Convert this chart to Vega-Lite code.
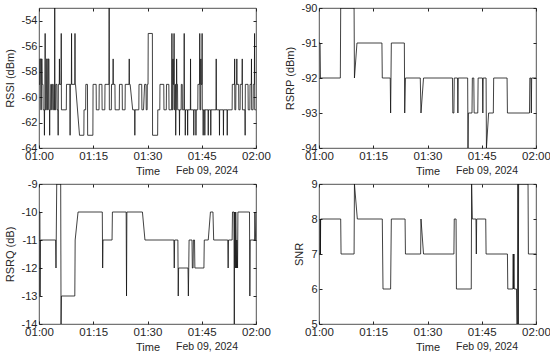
{
 "$schema": "https://vega.github.io/schema/vega-lite/v6.json",
 "padding": {"left": 3, "top": 1, "right": 0, "bottom": 0},
 "datasets": {
  "rssi": [{"m":0,"v":-59},{"m":0.2,"v":-59},{"m":0.25,"v":-57},{"m":0.45,"v":-57},{"m":0.5,"v":-61},{"m":0.65,"v":-61},{"m":0.7,"v":-57},{"m":0.85,"v":-57},{"m":0.9,"v":-59},{"m":1.1,"v":-59},{"m":1.15,"v":-61},{"m":1.45,"v":-61},{"m":1.5,"v":-63},{"m":1.55,"v":-61},{"m":1.65,"v":-61},{"m":1.7,"v":-55},{"m":1.75,"v":-61},{"m":2.05,"v":-61},{"m":2.1,"v":-57},{"m":2.3,"v":-57},{"m":2.35,"v":-61},{"m":2.55,"v":-61},{"m":2.6,"v":-57},{"m":2.75,"v":-57},{"m":2.8,"v":-61},{"m":2.9,"v":-61},{"m":2.95,"v":-63},{"m":3.0,"v":-61},{"m":3.2,"v":-61},{"m":3.25,"v":-59},{"m":3.45,"v":-59},{"m":3.5,"v":-61},{"m":3.65,"v":-61},{"m":3.7,"v":-59},{"m":3.95,"v":-59},{"m":4.0,"v":-61},{"m":4.3,"v":-61},{"m":4.35,"v":-53},{"m":4.4,"v":-61},{"m":4.6,"v":-61},{"m":4.65,"v":-59},{"m":4.95,"v":-59},{"m":5.0,"v":-61},{"m":5.25,"v":-61},{"m":5.3,"v":-63},{"m":5.35,"v":-59},{"m":5.6,"v":-59},{"m":5.65,"v":-57},{"m":5.7,"v":-59},{"m":6.1,"v":-59},{"m":6.15,"v":-55},{"m":6.2,"v":-61},{"m":7.55,"v":-61},{"m":7.6,"v":-59},{"m":8.55,"v":-59},{"m":8.6,"v":-63},{"m":8.65,"v":-59},{"m":8.95,"v":-59},{"m":9.0,"v":-55},{"m":9.05,"v":-59},{"m":9.9,"v":-59},{"m":9.95,"v":-55},{"m":10.0,"v":-59},{"m":10.1,"v":-59},{"m":11.2,"v":-63},{"m":12.4,"v":-63},{"m":12.45,"v":-61},{"m":12.9,"v":-61},{"m":12.95,"v":-59},{"m":13.4,"v":-59},{"m":13.45,"v":-63},{"m":14.9,"v":-63},{"m":14.95,"v":-59},{"m":15.8,"v":-59},{"m":15.85,"v":-61},{"m":16.6,"v":-61},{"m":16.65,"v":-59},{"m":17.4,"v":-59},{"m":17.45,"v":-61},{"m":18.2,"v":-61},{"m":18.25,"v":-59},{"m":19.35,"v":-59},{"m":19.4,"v":-53},{"m":19.45,"v":-61},{"m":20.0,"v":-61},{"m":20.05,"v":-59},{"m":20.45,"v":-59},{"m":20.5,"v":-57},{"m":20.55,"v":-59},{"m":21.0,"v":-59},{"m":21.05,"v":-61},{"m":22.2,"v":-61},{"m":22.25,"v":-59},{"m":23.0,"v":-59},{"m":23.05,"v":-61},{"m":23.8,"v":-61},{"m":23.85,"v":-59},{"m":24.9,"v":-59},{"m":24.95,"v":-57},{"m":25.0,"v":-59},{"m":25.2,"v":-59},{"m":25.9,"v":-61},{"m":26.45,"v":-61},{"m":26.5,"v":-63},{"m":26.55,"v":-61},{"m":27.6,"v":-61},{"m":27.65,"v":-59},{"m":28.4,"v":-59},{"m":28.45,"v":-61},{"m":28.9,"v":-61},{"m":29.2,"v":-59},{"m":29.6,"v":-59},{"m":29.65,"v":-61},{"m":29.9,"v":-61},{"m":29.95,"v":-59},{"m":30.15,"v":-59},{"m":30.2,"v":-55},{"m":31.35,"v":-55},{"m":31.4,"v":-63},{"m":32.8,"v":-63},{"m":32.85,"v":-61},{"m":33.4,"v":-61},{"m":33.45,"v":-59},{"m":34.5,"v":-59},{"m":34.55,"v":-61},{"m":35.2,"v":-61},{"m":35.25,"v":-59},{"m":35.9,"v":-59},{"m":35.95,"v":-61},{"m":36.7,"v":-61},{"m":36.75,"v":-55},{"m":36.8,"v":-61},{"m":37.0,"v":-61},{"m":37.05,"v":-57},{"m":37.1,"v":-59},{"m":37.3,"v":-59},{"m":37.35,"v":-55},{"m":37.4,"v":-61},{"m":37.55,"v":-61},{"m":37.6,"v":-59},{"m":37.75,"v":-59},{"m":37.8,"v":-63},{"m":37.85,"v":-61},{"m":38.0,"v":-61},{"m":38.05,"v":-57},{"m":38.1,"v":-59},{"m":38.3,"v":-59},{"m":38.35,"v":-61},{"m":38.8,"v":-61},{"m":38.85,"v":-63},{"m":38.9,"v":-61},{"m":39.3,"v":-61},{"m":39.35,"v":-59},{"m":39.6,"v":-59},{"m":39.65,"v":-61},{"m":40.1,"v":-61},{"m":40.15,"v":-55},{"m":40.2,"v":-61},{"m":40.4,"v":-61},{"m":40.45,"v":-63},{"m":40.5,"v":-61},{"m":41.05,"v":-61},{"m":41.1,"v":-63},{"m":41.15,"v":-61},{"m":41.85,"v":-61},{"m":41.9,"v":-57},{"m":41.95,"v":-61},{"m":42.75,"v":-61},{"m":42.8,"v":-63},{"m":42.85,"v":-61},{"m":43.35,"v":-61},{"m":43.4,"v":-63},{"m":43.45,"v":-61},{"m":43.9,"v":-61},{"m":43.95,"v":-59},{"m":44.4,"v":-59},{"m":44.45,"v":-55},{"m":44.5,"v":-61},{"m":44.7,"v":-61},{"m":44.75,"v":-57},{"m":44.8,"v":-59},{"m":45.05,"v":-59},{"m":45.1,"v":-55},{"m":45.15,"v":-61},{"m":45.35,"v":-61},{"m":45.4,"v":-63},{"m":45.45,"v":-61},{"m":45.8,"v":-61},{"m":45.85,"v":-63},{"m":45.9,"v":-61},{"m":46.75,"v":-61},{"m":46.8,"v":-63},{"m":46.85,"v":-61},{"m":47.45,"v":-61},{"m":47.5,"v":-63},{"m":47.55,"v":-61},{"m":48.95,"v":-61},{"m":49.0,"v":-57},{"m":49.05,"v":-61},{"m":49.85,"v":-61},{"m":49.9,"v":-63},{"m":49.95,"v":-61},{"m":50.95,"v":-61},{"m":51.0,"v":-63},{"m":51.05,"v":-61},{"m":52.0,"v":-61},{"m":52.05,"v":-63},{"m":52.1,"v":-61},{"m":53.4,"v":-61},{"m":53.45,"v":-59},{"m":54.05,"v":-59},{"m":54.1,"v":-57},{"m":54.15,"v":-61},{"m":54.4,"v":-61},{"m":54.45,"v":-59},{"m":54.65,"v":-59},{"m":54.7,"v":-57},{"m":54.75,"v":-59},{"m":55.2,"v":-59},{"m":55.25,"v":-61},{"m":55.6,"v":-61},{"m":55.65,"v":-59},{"m":56.15,"v":-59},{"m":56.2,"v":-57},{"m":56.25,"v":-61},{"m":56.95,"v":-61},{"m":57.0,"v":-63},{"m":57.05,"v":-59},{"m":57.8,"v":-59},{"m":57.85,"v":-61},{"m":58.3,"v":-61},{"m":58.35,"v":-59},{"m":58.7,"v":-59},{"m":58.75,"v":-57},{"m":58.8,"v":-61},{"m":59.2,"v":-61},{"m":59.25,"v":-59},{"m":59.55,"v":-59},{"m":59.6,"v":-55},{"m":59.65,"v":-61},{"m":60,"v":-61}],
  "rsrp": [{"m":0,"v":-91},{"m":0.3,"v":-91},{"m":0.4,"v":-92},{"m":5.9,"v":-92},{"m":6.0,"v":-90},{"m":9.7,"v":-90},{"m":9.8,"v":-92},{"m":10.5,"v":-91},{"m":17.4,"v":-91},{"m":17.5,"v":-92},{"m":19.7,"v":-92},{"m":19.8,"v":-93},{"m":20.0,"v":-91},{"m":23.6,"v":-91},{"m":23.7,"v":-93},{"m":23.9,"v":-92},{"m":28.0,"v":-92},{"m":28.2,"v":-93},{"m":28.9,"v":-92},{"m":36.9,"v":-92},{"m":37.0,"v":-93},{"m":37.3,"v":-93},{"m":37.4,"v":-92},{"m":38.3,"v":-92},{"m":38.4,"v":-93},{"m":38.5,"v":-92},{"m":41.1,"v":-92},{"m":41.2,"v":-94},{"m":41.3,"v":-93},{"m":42.3,"v":-93},{"m":42.4,"v":-92},{"m":42.8,"v":-92},{"m":42.9,"v":-93},{"m":43.9,"v":-93},{"m":44.0,"v":-92},{"m":45.2,"v":-92},{"m":45.3,"v":-93},{"m":45.4,"v":-92},{"m":46.2,"v":-92},{"m":46.3,"v":-94},{"m":46.9,"v":-93},{"m":48.2,"v":-93},{"m":48.3,"v":-92},{"m":52.0,"v":-92},{"m":52.1,"v":-93},{"m":58.2,"v":-93},{"m":58.3,"v":-92},{"m":58.6,"v":-92},{"m":58.7,"v":-93},{"m":58.8,"v":-92},{"m":60,"v":-92}],
  "rsrq": [{"m":0,"v":-10},{"m":0.25,"v":-10},{"m":0.3,"v":-13},{"m":0.4,"v":-11},{"m":4.6,"v":-11},{"m":4.7,"v":-12},{"m":4.9,"v":-9},{"m":6.0,"v":-9},{"m":6.1,"v":-14},{"m":6.2,"v":-13},{"m":9.9,"v":-13},{"m":10.0,"v":-11},{"m":10.8,"v":-10},{"m":17.5,"v":-10},{"m":17.6,"v":-12},{"m":17.7,"v":-11},{"m":20.2,"v":-11},{"m":20.3,"v":-10},{"m":24.1,"v":-10},{"m":24.2,"v":-13},{"m":24.3,"v":-10},{"m":28.6,"v":-10},{"m":29.3,"v":-11},{"m":37.3,"v":-11},{"m":37.4,"v":-12},{"m":37.5,"v":-11},{"m":38.4,"v":-11},{"m":38.5,"v":-13},{"m":38.6,"v":-12},{"m":41.2,"v":-12},{"m":41.3,"v":-13},{"m":41.5,"v":-11},{"m":42.3,"v":-11},{"m":42.4,"v":-12},{"m":42.6,"v":-12},{"m":42.7,"v":-11},{"m":43.0,"v":-11},{"m":43.1,"v":-12},{"m":45.6,"v":-12},{"m":45.7,"v":-11},{"m":46.8,"v":-11},{"m":47.4,"v":-10},{"m":48.1,"v":-10},{"m":48.3,"v":-11},{"m":52.2,"v":-11},{"m":52.3,"v":-12},{"m":52.4,"v":-11},{"m":53.4,"v":-11},{"m":53.5,"v":-10},{"m":53.9,"v":-10},{"m":54.0,"v":-14},{"m":54.1,"v":-10},{"m":54.3,"v":-12},{"m":54.4,"v":-10},{"m":54.6,"v":-12},{"m":54.7,"v":-11},{"m":54.9,"v":-12},{"m":55.0,"v":-10},{"m":58.2,"v":-10},{"m":58.3,"v":-13},{"m":58.4,"v":-11},{"m":59.6,"v":-11},{"m":59.7,"v":-10},{"m":59.9,"v":-11},{"m":60,"v":-11}],
  "snr": [{"m":0,"v":7},{"m":0.3,"v":7},{"m":0.35,"v":8},{"m":0.4,"v":7},{"m":0.45,"v":8},{"m":6.0,"v":8},{"m":6.1,"v":7},{"m":9.7,"v":7},{"m":9.8,"v":9},{"m":10.6,"v":8},{"m":17.5,"v":8},{"m":17.6,"v":7},{"m":17.7,"v":6},{"m":19.8,"v":6},{"m":20.0,"v":8},{"m":23.8,"v":8},{"m":23.9,"v":7},{"m":28.1,"v":7},{"m":28.2,"v":8},{"m":28.9,"v":7},{"m":37.3,"v":7},{"m":37.4,"v":8},{"m":37.9,"v":8},{"m":38.0,"v":6},{"m":42.1,"v":6},{"m":42.2,"v":9},{"m":42.4,"v":8},{"m":43.4,"v":8},{"m":43.5,"v":7},{"m":43.6,"v":8},{"m":46.1,"v":8},{"m":46.2,"v":7},{"m":52.1,"v":7},{"m":52.2,"v":6},{"m":53.6,"v":6},{"m":53.7,"v":7},{"m":53.8,"v":6},{"m":53.9,"v":7},{"m":54.0,"v":6},{"m":54.6,"v":6},{"m":54.7,"v":5},{"m":54.9,"v":5},{"m":55.0,"v":9},{"m":55.1,"v":5},{"m":55.2,"v":9},{"m":57.8,"v":9},{"m":57.9,"v":7},{"m":60,"v":7}]
 },
 "columns": 2,
 "spacing": {"row": 36, "column": 63},
 "bounds": "flush",
 "concat": [
  {
   "width": 217, "height": 140,
   "data": {"name": "rssi"},
   "layer": [
    {"mark": {"type": "line", "color": "#111111", "strokeWidth": 0.8, "clip": true},
     "encoding": {
      "x": {"field": "m", "type": "quantitative", "scale": {"domain": [0, 60], "nice": false, "zero": false},
            "axis": {"values": [0, 15, 30, 45, 60], "labelExpr": "datum.value == 60 ? '02:00' : '01:' + (datum.value < 10 ? '0' + datum.value : datum.value)", "title": "Time"}},
      "y": {"field": "v", "type": "quantitative", "scale": {"domain": [-64, -53], "nice": false, "zero": false},
            "axis": {"values": [-64, -62, -60, -58, -56, -54], "labelExpr": "'' + datum.value", "title": "RSSI (dBm)"}}}},
    {"mark": {"type": "line", "strokeOpacity": 0, "clip": true},
     "encoding": {
      "x": {"field": "m", "type": "quantitative", "scale": {"domain": [0, 60], "nice": false, "zero": false},
            "axis": {"orient": "top", "values": [0, 15, 30, 45, 60], "labels": false, "title": null}},
      "y": {"field": "v", "type": "quantitative", "scale": {"domain": [-64, -53], "nice": false, "zero": false},
            "axis": {"orient": "right", "values": [-64, -62, -60, -58, -56, -54], "labels": false, "title": null}}}}
   ],
   "resolve": {"axis": {"x": "independent", "y": "independent"}},
   "title": {"text": "Feb 09, 2024", "orient": "bottom", "anchor": "end", "frame": "group", "dx": -18, "offset": -11}
  },
  {
   "width": 217, "height": 140,
   "data": {"name": "rsrp"},
   "layer": [
    {"mark": {"type": "line", "color": "#111111", "strokeWidth": 0.8, "clip": true},
     "encoding": {
      "x": {"field": "m", "type": "quantitative", "scale": {"domain": [0, 60], "nice": false, "zero": false},
            "axis": {"values": [0, 15, 30, 45, 60], "labelExpr": "datum.value == 60 ? '02:00' : '01:' + (datum.value < 10 ? '0' + datum.value : datum.value)", "title": "Time"}},
      "y": {"field": "v", "type": "quantitative", "scale": {"domain": [-94, -90], "nice": false, "zero": false},
            "axis": {"values": [-94, -93, -92, -91, -90], "labelExpr": "'' + datum.value", "title": "RSRP (dBm)"}}}},
    {"mark": {"type": "line", "strokeOpacity": 0, "clip": true},
     "encoding": {
      "x": {"field": "m", "type": "quantitative", "scale": {"domain": [0, 60], "nice": false, "zero": false},
            "axis": {"orient": "top", "values": [0, 15, 30, 45, 60], "labels": false, "title": null}},
      "y": {"field": "v", "type": "quantitative", "scale": {"domain": [-94, -90], "nice": false, "zero": false},
            "axis": {"orient": "right", "values": [-94, -93, -92, -91, -90], "labels": false, "title": null}}}}
   ],
   "resolve": {"axis": {"x": "independent", "y": "independent"}},
   "title": {"text": "Feb 09, 2024", "orient": "bottom", "anchor": "end", "frame": "group", "dx": -18, "offset": -11}
  },
  {
   "width": 217, "height": 140,
   "data": {"name": "rsrq"},
   "layer": [
    {"mark": {"type": "line", "color": "#111111", "strokeWidth": 0.8, "clip": true},
     "encoding": {
      "x": {"field": "m", "type": "quantitative", "scale": {"domain": [0, 60], "nice": false, "zero": false},
            "axis": {"values": [0, 15, 30, 45, 60], "labelExpr": "datum.value == 60 ? '02:00' : '01:' + (datum.value < 10 ? '0' + datum.value : datum.value)", "title": "Time"}},
      "y": {"field": "v", "type": "quantitative", "scale": {"domain": [-14, -9], "nice": false, "zero": false},
            "axis": {"values": [-14, -13, -12, -11, -10, -9], "labelExpr": "'' + datum.value", "title": "RSRQ (dB)"}}}},
    {"mark": {"type": "line", "strokeOpacity": 0, "clip": true},
     "encoding": {
      "x": {"field": "m", "type": "quantitative", "scale": {"domain": [0, 60], "nice": false, "zero": false},
            "axis": {"orient": "top", "values": [0, 15, 30, 45, 60], "labels": false, "title": null}},
      "y": {"field": "v", "type": "quantitative", "scale": {"domain": [-14, -9], "nice": false, "zero": false},
            "axis": {"orient": "right", "values": [-14, -13, -12, -11, -10, -9], "labels": false, "title": null}}}}
   ],
   "resolve": {"axis": {"x": "independent", "y": "independent"}},
   "title": {"text": "Feb 09, 2024", "orient": "bottom", "anchor": "end", "frame": "group", "dx": -18, "offset": -11}
  },
  {
   "width": 217, "height": 140,
   "data": {"name": "snr"},
   "layer": [
    {"mark": {"type": "line", "color": "#111111", "strokeWidth": 0.8, "clip": true},
     "encoding": {
      "x": {"field": "m", "type": "quantitative", "scale": {"domain": [0, 60], "nice": false, "zero": false},
            "axis": {"values": [0, 15, 30, 45, 60], "labelExpr": "datum.value == 60 ? '02:00' : '01:' + (datum.value < 10 ? '0' + datum.value : datum.value)", "title": "Time"}},
      "y": {"field": "v", "type": "quantitative", "scale": {"domain": [5, 9], "nice": false, "zero": false},
            "axis": {"values": [5, 6, 7, 8, 9], "labelExpr": "'' + datum.value", "title": "SNR"}}}},
    {"mark": {"type": "line", "strokeOpacity": 0, "clip": true},
     "encoding": {
      "x": {"field": "m", "type": "quantitative", "scale": {"domain": [0, 60], "nice": false, "zero": false},
            "axis": {"orient": "top", "values": [0, 15, 30, 45, 60], "labels": false, "title": null}},
      "y": {"field": "v", "type": "quantitative", "scale": {"domain": [5, 9], "nice": false, "zero": false},
            "axis": {"orient": "right", "values": [5, 6, 7, 8, 9], "labels": false, "title": null}}}}
   ],
   "resolve": {"axis": {"x": "independent", "y": "independent"}},
   "title": {"text": "Feb 09, 2024", "orient": "bottom", "anchor": "end", "frame": "group", "dx": -18, "offset": -11}
  }
 ],
 "config": {
  "font": "Liberation Sans",
  "background": "white",
  "view": {"stroke": "#262626", "strokeWidth": 0.8},
  "axis": {"grid": false, "domain": false, "tickSize": -3, "tickColor": "#262626", "labelPadding": 5, "labelFontSize": 11, "labelColor": "#262626", "titleFontSize": 11, "titleFontWeight": "normal", "titleColor": "#262626", "titlePadding": 4, "labelFlush": false, "labelOverlap": false, "labelBound": false},
  "axisX": {"labelFontSize": 11.5},
  "axisY": {"titlePadding": 6},
  "title": {"fontSize": 10.5, "fontWeight": "normal", "color": "#262626"}
 }
}
